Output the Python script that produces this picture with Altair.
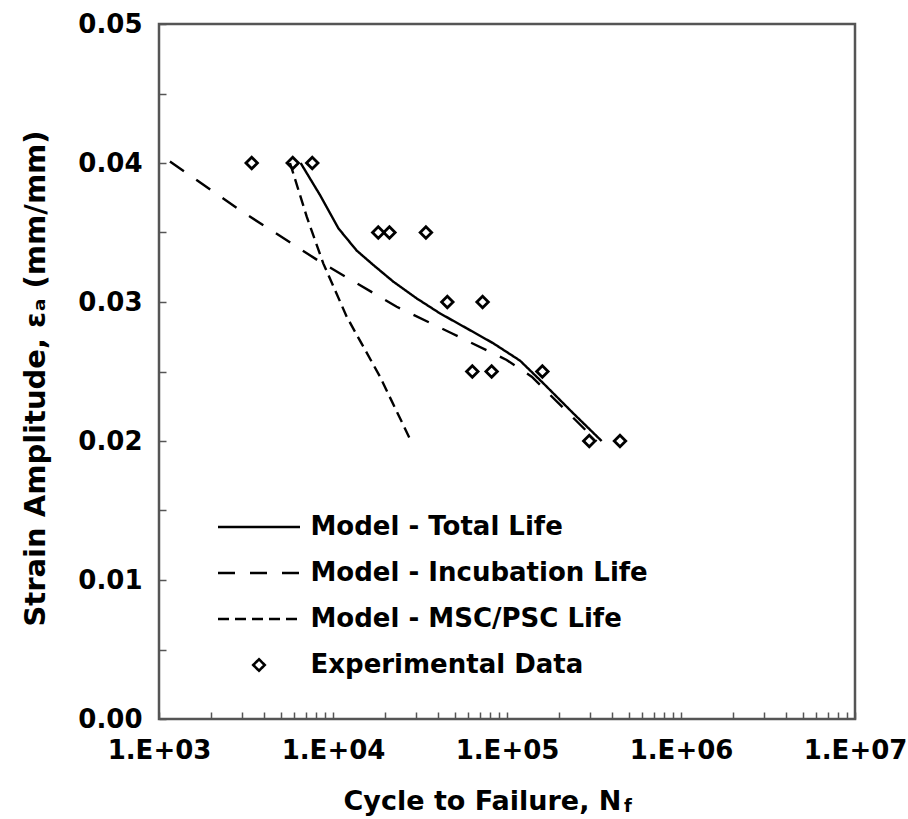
import altair as alt
import pandas as pd

# Series names (also the legend entries, in legend order)
SERIES = [
    "Model - Total Life",
    "Model - Incubation Life",
    "Model - MSC/PSC Life",
    "Experimental Data",
]

# Experimental fatigue results: cycles to failure and strain amplitude
exp_cycles = [3410, 5870, 7600, 18200, 21100, 34200, 45400, 72400,
              63200, 81600, 159700, 297000, 446000]
exp_strain = [0.040, 0.040, 0.040, 0.035, 0.035, 0.035, 0.030, 0.030,
              0.025, 0.025, 0.025, 0.020, 0.020]

# Model predictions
total_cycles = [6516, 8414, 10740, 13680, 17060, 22230, 30270, 41210,
                58610, 83370, 118850, 161800, 240400, 349900]
total_strain = [0.0400, 0.0377, 0.0353, 0.0337, 0.03266, 0.03146, 0.03026,
                0.02918, 0.02811, 0.02703, 0.02578, 0.02415, 0.02199, 0.0200]

incub_cycles = [1156, 2924, 8414, 23230, 48080, 99540, 138700, 327300]
incub_strain = [0.0401, 0.0366, 0.0329, 0.02966, 0.02775, 0.02583, 0.02463, 0.0200]

msc_cycles = [5662, 7063, 8790, 11990, 18620, 28310]
msc_strain = [0.0400, 0.03614, 0.03278, 0.02894, 0.02463, 0.0199]

# Axis tick positions
x_label_values = [1e3, 1e4, 1e5, 1e6, 1e7]
x_tick_values = [m * 10 ** d for d in range(3, 7) for m in range(1, 10)] + [1e7]
y_label_values = [0.0, 0.01, 0.02, 0.03, 0.04, 0.05]
y_tick_values = [i * 0.005 for i in range(0, 11)]

lines_df = pd.concat([
    pd.DataFrame({"cycles": total_cycles, "strain": total_strain, "series": SERIES[0]}),
    pd.DataFrame({"cycles": incub_cycles, "strain": incub_strain, "series": SERIES[1]}),
    pd.DataFrame({"cycles": msc_cycles, "strain": msc_strain, "series": SERIES[2]}),
], ignore_index=True)
exp_df = pd.DataFrame({"cycles": exp_cycles, "strain": exp_strain, "series": SERIES[3]})

W, H = 696, 695
FONT = "DejaVu Sans"
FRAME = "#555555"
DIAMOND = "M0,-0.14L0.14,0L0,0.14L-0.14,0Z"

x_scale = alt.Scale(type="log", domain=[1e3, 1e7], nice=False)
y_scale = alt.Scale(domain=[0, 0.05], nice=False, zero=False)

legend = alt.Legend(
    title=None, orient="none", legendX=57.5, legendY=488, padding=0, offset=0,
    labelFont=FONT, labelFontSize=26, labelFontWeight="bold", labelColor="black",
    labelLimit=600, labelOffset=9,
    symbolSize=6724, symbolStrokeWidth=2.6, symbolStrokeColor="black",
    symbolFillColor="transparent", symbolOpacity=1, symbolOffset=0,
    clipHeight=30, rowPadding=16,
)

x_label_axis = alt.Axis(
    values=x_label_values,
    labelExpr="'1.E+0' + round(log(datum.value) / LN10)",
    ticks=False, tickSize=0, domain=False, grid=False,
    labelFont=FONT, labelFontSize=26, labelFontWeight="bold", labelColor="black",
    labelBaseline="middle", labelPadding=31, labelFlush=False, labelOverlap=False,
    title="Cycle to Failure,  N", titleFont=FONT, titleFontSize=27,
    titleFontWeight="bold", titleColor="black", titleAlign="left",
    titleBaseline="middle", titleX=184, titleY=82,
)
y_label_axis = alt.Axis(
    values=y_label_values, format=".2f",
    ticks=False, tickSize=0, domain=False, grid=False,
    labelFont=FONT, labelFontSize=26, labelFontWeight="bold", labelColor="black",
    labelPadding=17, labelFlush=False,
    title="Strain Amplitude, εₐ (mm/mm)", titleFont=FONT, titleFontSize=29,
    titleFontWeight="bold", titleColor="black", titleAngle=270,
    titleAlign="center", titleBaseline="middle", titleX=-124, titleY=354,
)
# Inward-pointing ticks drawn by axes placed on the opposite frame edges
x_tick_axis = alt.Axis(
    orient="top", offset=-H, values=x_tick_values, labels=False, domain=False,
    grid=False, ticks=True, tickSize=7, tickWidth=1.5, tickColor=FRAME, title=None,
)
y_tick_axis = alt.Axis(
    orient="right", offset=-W, values=y_tick_values, labels=False, domain=False,
    grid=False, ticks=True, tickSize=7, tickWidth=1.5, tickColor=FRAME, title=None,
)

lines = alt.Chart(lines_df).mark_line(color="black", strokeWidth=2.4).encode(
    x=alt.X("cycles:Q", scale=x_scale, axis=x_label_axis),
    y=alt.Y("strain:Q", scale=y_scale, axis=y_label_axis),
    strokeDash=alt.StrokeDash(
        "series:N",
        scale=alt.Scale(domain=SERIES, range=[[1, 0], [17, 15], [11, 6], [1, 0]]),
        legend=legend,
    ),
)

points = alt.Chart(exp_df).mark_point(
    filled=False, color="black", strokeWidth=2.8, size=6724, opacity=1
).encode(
    x=alt.X("cycles:Q", scale=x_scale, axis=x_tick_axis),
    y=alt.Y("strain:Q", scale=y_scale, axis=y_tick_axis),
    shape=alt.Shape(
        "series:N",
        scale=alt.Scale(domain=SERIES, range=["stroke", "stroke", "stroke", DIAMOND]),
        legend=legend,
    ),
)

# Subscript "f" of the x-axis title
subscript = alt.Chart(pd.DataFrame({"t": ["f"]})).mark_text(
    font=FONT, fontSize=18, fontWeight="bold", color="black",
    align="left", baseline="middle",
).encode(text="t:N", x=alt.value(465), y=alt.value(783))

chart = (
    alt.layer(lines, points, subscript)
    .resolve_axis(x="independent", y="independent")
    .properties(
        width=W, height=H,
        padding={"left": 159, "top": 24, "right": 53, "bottom": 100},
        autosize=alt.AutoSizeParams(type="none"),
        background="white",
    )
    .configure_view(stroke=FRAME, strokeWidth=2.5)
)

chart.save("out.html", embed_options={"renderer": "svg", "actions": False})
